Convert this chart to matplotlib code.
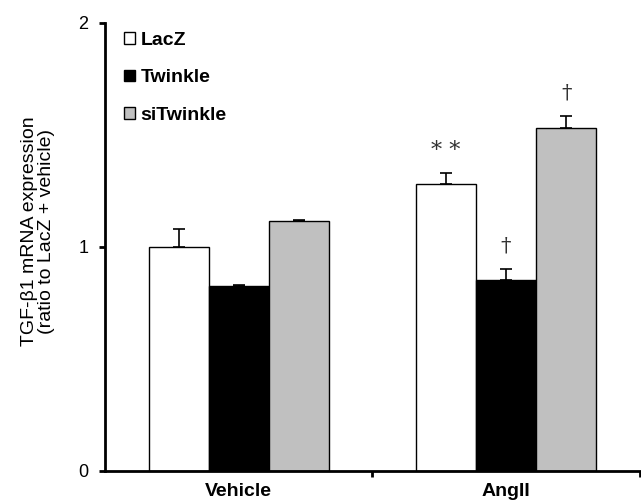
import numpy as np
import matplotlib.pyplot as plt

plt.rcParams['font.family'] = ['Liberation Sans', 'DejaVu Sans']

groups = ['Vehicle', 'AngII']
series = ['LacZ', 'Twinkle', 'siTwinkle']
colors = ['white', 'black', '#c0c0c0']
means = {
    'LacZ': [1.00, 1.28],
    'Twinkle': [0.825, 0.853],
    'siTwinkle': [1.115, 1.53],
}
errs = {
    'LacZ': [0.08, 0.05],
    'Twinkle': [0.005, 0.05],
    'siTwinkle': [0.005, 0.055],
}
marks = {
    'LacZ': ['', '**'],
    'Twinkle': ['', '\u2020'],
    'siTwinkle': ['', '\u2020'],
}


def main():
    fig = plt.figure(figsize=(6.41, 5.04), dpi=100)
    ax = fig.add_axes([0.164, 0.0655, 0.834, 0.889])

    x = np.arange(len(groups))
    w = 0.225
    for i, name in enumerate(series):
        pos = x + (i - 1) * w
        vals = means[name]
        err = errs[name]
        ax.bar(pos, vals, width=w, color=colors[i], edgecolor='black',
               linewidth=1.0, label=name, zorder=2)
        ax.errorbar(pos, vals, yerr=[[0] * len(vals), err], fmt='none',
                    ecolor='black', elinewidth=1.2, capsize=4, capthick=1.2,
                    zorder=1)
        for p, v, e, m in zip(pos, vals, err, marks[name]):
            if m == '**':
                ax.text(p, v + e + 0.05, '* *', ha='center', va='bottom',
                        fontsize=16, color='#333333', family='DejaVu Serif')
            elif m:
                ax.text(p, v + e + 0.06, m, ha='center', va='bottom',
                        fontsize=15, color='#333333', family='DejaVu Serif')

    ax.set_xlim(-0.5, 1.5)
    ax.set_ylim(0, 2)
    ax.set_yticks([0, 1, 2])
    ax.set_yticklabels(['0', '1', '2'], fontsize=13)
    ax.set_xticks([0.5, 1.5])
    ax.set_xticklabels([])
    ax.set_xticks([0, 1], minor=True)
    ax.set_xticklabels(groups, minor=True, fontsize=14, fontweight='bold')
    ax.tick_params(axis='x', which='minor', length=0, pad=9)
    ax.tick_params(axis='x', which='major', direction='out', length=4, width=2)
    ax.tick_params(axis='y', direction='out', length=4, width=2, pad=8)
    ax.spines['top'].set_visible(False)
    ax.spines['right'].set_visible(False)
    ax.spines['left'].set_linewidth(2)
    ax.spines['bottom'].set_linewidth(2)

    ax.set_ylabel('TGF-\u03b21 mRNA expression\n(ratio to LacZ + vehicle)',
                  fontsize=14, linespacing=1.0)
    ax.yaxis.set_label_coords(-0.094, 0.535)

    ax.legend(loc='upper left', bbox_to_anchor=(0.01, 1.01), frameon=False,
              prop={'weight': 'bold', 'size': 14},
              handlelength=0.55, handleheight=0.55, handletextpad=0.3,
              labelspacing=1.05, borderaxespad=0.3)

    fig.savefig('out.png', dpi=100)


if __name__ == '__main__':
    main()
